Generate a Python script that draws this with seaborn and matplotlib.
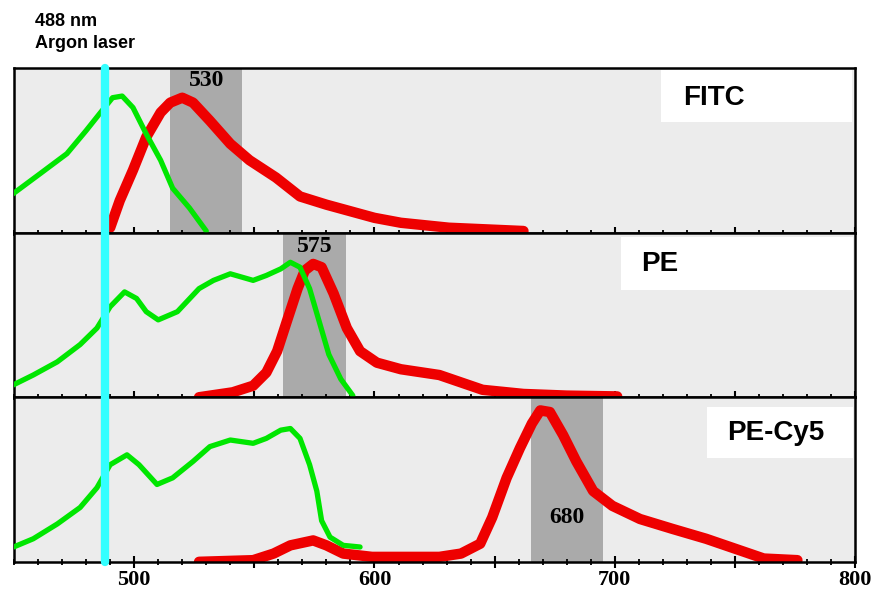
import numpy as np
import pandas as pd
import seaborn as sns
import matplotlib.pyplot as plt
from matplotlib.patches import Rectangle
from matplotlib.ticker import MultipleLocator

# wavelengths (nm) and relative intensity (0-1 of panel height)
fitc_ex_nm = [449, 461, 472, 480, 486, 491, 495, 499.5, 505, 511, 516, 523, 530]
fitc_ex = [0.23, 0.36, 0.48, 0.62, 0.73, 0.82, 0.83, 0.76, 0.60, 0.44, 0.27, 0.15, 0.01]
fitc_em_nm = [490, 494, 499.5, 505, 511, 515, 520, 524.5, 531.5, 540, 548, 559, 569, 580, 590, 600, 611, 631, 662]
fitc_em = [0.03, 0.195, 0.38, 0.58, 0.73, 0.79, 0.82, 0.79, 0.68, 0.54, 0.44, 0.335, 0.22, 0.17, 0.13, 0.09, 0.06, 0.03, 0.01]

pe_ex_nm = [449, 458, 468, 477.5, 484.5, 490, 496, 501, 505, 510, 518, 527, 533, 540, 549.5, 555, 561, 565, 569, 573, 577, 581, 586, 591]
pe_ex = [0.07, 0.135, 0.215, 0.32, 0.42, 0.55, 0.64, 0.60, 0.52, 0.47, 0.52, 0.66, 0.71, 0.75, 0.71, 0.74, 0.78, 0.82, 0.79, 0.66, 0.46, 0.26, 0.11, 0.01]
pe_em_nm = [527, 541, 549.5, 555, 559.5, 563.5, 568, 571, 574.5, 578, 583, 588.5, 594, 601, 611, 627, 645, 662, 680, 701]
pe_em = [0.0, 0.03, 0.07, 0.15, 0.28, 0.46, 0.66, 0.77, 0.81, 0.79, 0.63, 0.42, 0.28, 0.21, 0.17, 0.135, 0.045, 0.02, 0.01, 0.005]

cy5_ex_nm = [449, 458, 468, 477.5, 484.5, 490, 497, 502, 509.5, 516, 524.5, 531.5, 540, 549.5, 555, 561, 565, 569, 573, 576, 578, 581.5, 587, 594]
cy5_ex = [0.085, 0.14, 0.23, 0.33, 0.45, 0.59, 0.65, 0.59, 0.47, 0.51, 0.61, 0.70, 0.74, 0.72, 0.75, 0.80, 0.81, 0.75, 0.59, 0.43, 0.25, 0.15, 0.10, 0.09]
cy5_em_nm = [527, 549.5, 558, 565, 574.5, 580, 587, 599, 627, 636, 644, 649, 655, 660.5, 665.5, 669, 673, 678.5, 684, 691, 699, 710.5, 724, 738, 752, 762, 776]
cy5_em = [0.0, 0.01, 0.05, 0.10, 0.13, 0.10, 0.05, 0.03, 0.03, 0.05, 0.11, 0.27, 0.51, 0.69, 0.84, 0.92, 0.91, 0.77, 0.61, 0.43, 0.34, 0.26, 0.20, 0.14, 0.07, 0.02, 0.01]

dyes = ["FITC", "PE", "PE-Cy5"]
ex_nm = [fitc_ex_nm, pe_ex_nm, cy5_ex_nm]
ex_val = [fitc_ex, pe_ex, cy5_ex]
em_nm = [fitc_em_nm, pe_em_nm, cy5_em_nm]
em_val = [fitc_em, pe_em, cy5_em]

# detector filters: centre and width (nm)
filter_center = [530, 575, 680]
filter_width = [30, 26, 30]
filter_label_y = [0.925, 0.915, 0.27]

laser_nm = 488
tick_labels = ["500", "", "600", "", "700", "", "800"]

sns.set_style("white")
plt.rcParams["font.family"] = ["Liberation Sans", "DejaVu Sans"]
plt.rcParams["text.color"] = "black"
plt.rcParams["xtick.color"] = "black"

fig, axes = plt.subplots(3, 1, figsize=(8.77, 5.92), dpi=100, sharex=True)
fig.subplots_adjust(left=0.016, right=0.975, top=0.885, bottom=0.051, hspace=0)

# label boxes (axes fraction): x0, x1, y0, y1, text x, text y
boxes = [(0.769, 0.996, 0.67, 0.988, 0.795, 0.817),
         (0.722, 0.998, 0.65, 0.975, 0.746, 0.81),
         (0.824, 0.998, 0.629, 0.94, 0.848, 0.784)]

for i, ax in enumerate(axes):
    ax.set_facecolor("#ececec")
    lo = filter_center[i] - filter_width[i] / 2
    hi = filter_center[i] + filter_width[i] / 2
    ax.axvspan(lo, hi, color="#aaaaaa", lw=0, zorder=0.5)
    ax.text(filter_center[i], filter_label_y[i], str(filter_center[i]),
            ha="center", va="center", fontsize=17, family="Liberation Serif",
            fontweight="bold", color="black", zorder=1)

    sns.lineplot(x=ex_nm[i], y=ex_val[i], ax=ax, color="#00e600", lw=3.8,
                 zorder=3, estimator=None, sort=False)
    sns.lineplot(x=em_nm[i], y=em_val[i], ax=ax, color="#ee0000", lw=7.5,
                 zorder=2, estimator=None, sort=False)

    ax.axvline(laser_nm, color="#33ffff", lw=6, zorder=5, clip_on=False)

    x0, x1, y0, y1, tx, ty = boxes[i]
    ax.add_patch(Rectangle((x0, y0), x1 - x0, y1 - y0, transform=ax.transAxes,
                           facecolor="white", edgecolor="none", zorder=4))
    ax.text(tx, ty, dyes[i], transform=ax.transAxes, fontsize=20,
            fontweight="bold", va="center", ha="left", color="black", zorder=6)

    ax.set_xlim(450, 800)
    ax.set_ylim(0, 1)
    ax.set_yticks([])
    ax.set_ylabel("")
    ax.xaxis.set_major_locator(MultipleLocator(50))
    ax.xaxis.set_minor_locator(MultipleLocator(10))
    ax.tick_params(axis="x", which="major", direction="inout", length=8,
                   width=1.5, color="black", bottom=True, labelbottom=False)
    ax.tick_params(axis="x", which="minor", direction="inout", length=5,
                   width=1.3, color="black", bottom=True)
    for s in ax.spines.values():
        s.set_color("black")
        s.set_linewidth(1.8)

bot = axes[-1]
bot.set_xticks([500, 550, 600, 650, 700, 750, 800])
bot.set_xticklabels(tick_labels)
bot.tick_params(axis="x", which="major", labelbottom=True, pad=2,
                labelsize=16, labelcolor="black")
for lab in bot.get_xticklabels():
    lab.set_family("Liberation Serif")
    lab.set_fontweight("bold")

fig.text(0.04, 0.978, "488 nm\nArgon laser", fontsize=13, fontweight="bold",
         va="top", ha="left", linespacing=1.35, color="black")

fig.savefig("out.png", dpi=100)
